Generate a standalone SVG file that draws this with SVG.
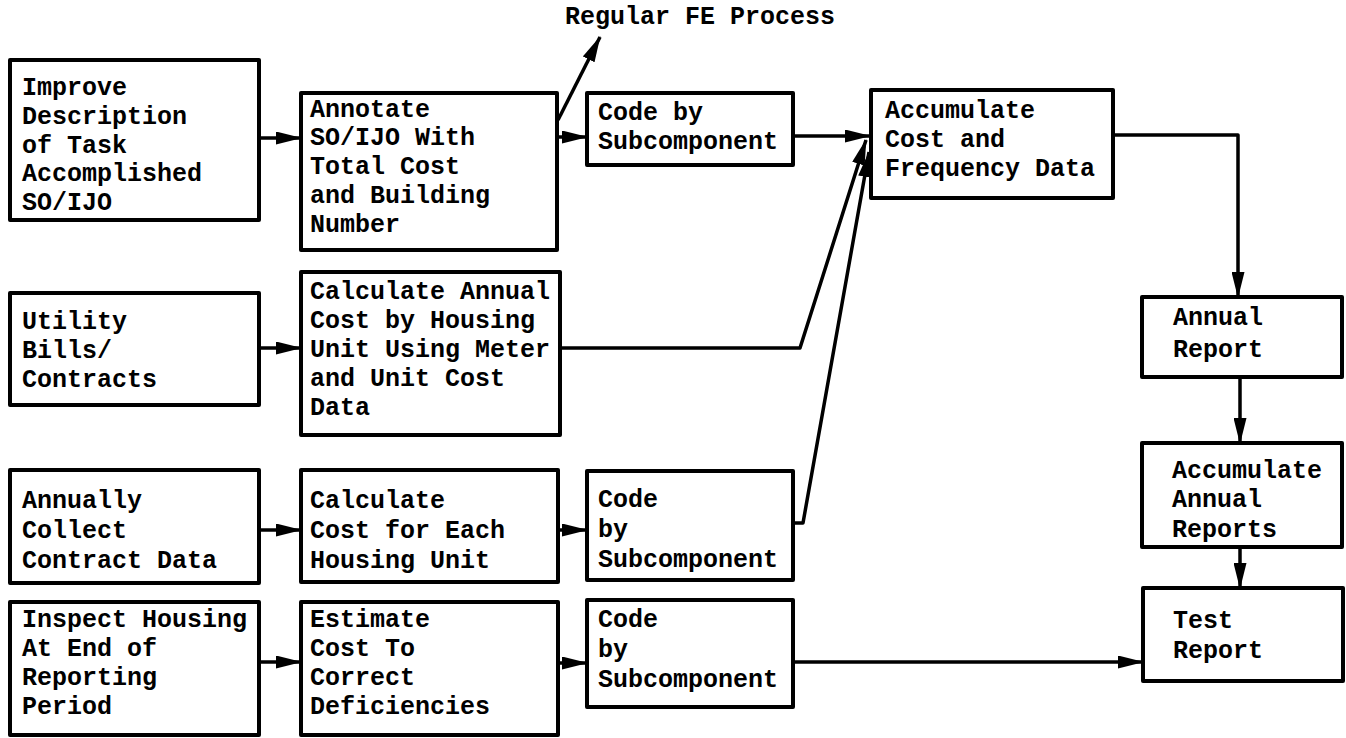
<svg xmlns="http://www.w3.org/2000/svg" width="1346" height="738" viewBox="0 0 1346 738">
<defs>
<style>
.box{fill:#fff;stroke:#000;stroke-width:4;stroke-linejoin:round}
.t{font-family:"Liberation Mono","Courier New",monospace;font-weight:bold;font-size:25px;fill:#000}
.c{fill:none;stroke:#000;stroke-width:3.5;stroke-linejoin:round}
</style>
<marker id="ah" viewBox="0 0 26 13" refX="25" refY="6.5" markerWidth="26" markerHeight="13" markerUnits="userSpaceOnUse" orient="auto">
<path d="M0,0 L26,6.5 L0,13 z" fill="#000"/>
</marker>
</defs>
<rect width="1346" height="738" fill="#fff"/>
<g id="connectors">
<line class="c" x1="259" y1="138" x2="301" y2="138" marker-end="url(#ah)"/>
<line class="c" x1="558" y1="120" x2="600" y2="37" marker-end="url(#ah)"/>
<line class="c" x1="557" y1="137" x2="587" y2="137" marker-end="url(#ah)"/>
<line class="c" x1="793" y1="136" x2="870" y2="136" marker-end="url(#ah)"/>
<polyline class="c" points="560,348 800,348 866,140" marker-end="url(#ah)"/>
<polyline class="c" points="793,523 803,523 869,152" marker-end="url(#ah)"/>
<line class="c" x1="259" y1="348" x2="301" y2="348" marker-end="url(#ah)"/>
<line class="c" x1="259" y1="530" x2="301" y2="530" marker-end="url(#ah)"/>
<line class="c" x1="558" y1="530" x2="587" y2="530" marker-end="url(#ah)"/>
<line class="c" x1="259" y1="662" x2="301" y2="662" marker-end="url(#ah)"/>
<line class="c" x1="558" y1="663" x2="587" y2="663" marker-end="url(#ah)"/>
<line class="c" x1="793" y1="662" x2="1143" y2="662" marker-end="url(#ah)"/>
<polyline class="c" points="1113,135 1238,135 1238,297" marker-end="url(#ah)"/>
<line class="c" x1="1240" y1="377" x2="1240" y2="443" marker-end="url(#ah)"/>
<line class="c" x1="1240" y1="547" x2="1240" y2="588" marker-end="url(#ah)"/>
</g>
<g id="fe-label">
<text class="t" x="565" y="24">Regular FE Process</text>
</g>
<g id="n-improve">
<rect class="box" x="10" y="60" width="249" height="160"/>
<text class="t" x="22" y="95">Improve</text>
<text class="t" x="22" y="124">Description</text>
<text class="t" x="22" y="153">of Task</text>
<text class="t" x="22" y="181">Accomplished</text>
<text class="t" x="22" y="210">SO/IJO</text>
</g>
<g id="n-annotate">
<rect class="box" x="301" y="93" width="256" height="157"/>
<text class="t" x="310" y="117">Annotate</text>
<text class="t" x="310" y="145">SO/IJO With</text>
<text class="t" x="310" y="174">Total Cost</text>
<text class="t" x="310" y="203">and Building</text>
<text class="t" x="310" y="232">Number</text>
</g>
<g id="n-code1">
<rect class="box" x="587" y="93" width="206" height="72"/>
<text class="t" x="598" y="120">Code by</text>
<text class="t" x="598" y="149">Subcomponent</text>
</g>
<g id="n-accumulate">
<rect class="box" x="871" y="90" width="242" height="108"/>
<text class="t" x="885" y="118">Accumulate</text>
<text class="t" x="885" y="147">Cost and</text>
<text class="t" x="885" y="176">Frequency Data</text>
</g>
<g id="n-utility">
<rect class="box" x="10" y="293" width="249" height="112"/>
<text class="t" x="22" y="329">Utility</text>
<text class="t" x="22" y="358">Bills/</text>
<text class="t" x="22" y="387">Contracts</text>
</g>
<g id="n-calc-annual">
<rect class="box" x="301" y="272" width="259" height="163"/>
<text class="t" x="310" y="299">Calculate Annual</text>
<text class="t" x="310" y="328">Cost by Housing</text>
<text class="t" x="310" y="357">Unit Using Meter</text>
<text class="t" x="310" y="386">and Unit Cost</text>
<text class="t" x="310" y="415">Data</text>
</g>
<g id="n-annually">
<rect class="box" x="10" y="470" width="249" height="113"/>
<text class="t" x="22" y="508">Annually</text>
<text class="t" x="22" y="538">Collect</text>
<text class="t" x="22" y="568">Contract Data</text>
</g>
<g id="n-calc-each">
<rect class="box" x="301" y="470" width="257" height="112"/>
<text class="t" x="310" y="508">Calculate</text>
<text class="t" x="310" y="538">Cost for Each</text>
<text class="t" x="310" y="568">Housing Unit</text>
</g>
<g id="n-code2">
<rect class="box" x="587" y="471" width="206" height="109"/>
<text class="t" x="598" y="507">Code</text>
<text class="t" x="598" y="537">by</text>
<text class="t" x="598" y="567">Subcomponent</text>
</g>
<g id="n-inspect">
<rect class="box" x="10" y="602" width="249" height="133"/>
<text class="t" x="22" y="627">Inspect Housing</text>
<text class="t" x="22" y="656">At End of</text>
<text class="t" x="22" y="685">Reporting</text>
<text class="t" x="22" y="714">Period</text>
</g>
<g id="n-estimate">
<rect class="box" x="301" y="602" width="257" height="133"/>
<text class="t" x="310" y="627">Estimate</text>
<text class="t" x="310" y="656">Cost To</text>
<text class="t" x="310" y="685">Correct</text>
<text class="t" x="310" y="714">Deficiencies</text>
</g>
<g id="n-code3">
<rect class="box" x="587" y="600" width="206" height="107"/>
<text class="t" x="598" y="627">Code</text>
<text class="t" x="598" y="657">by</text>
<text class="t" x="598" y="687">Subcomponent</text>
</g>
<g id="n-annual-report">
<rect class="box" x="1142" y="297" width="200" height="80"/>
<text class="t" x="1173" y="325">Annual</text>
<text class="t" x="1173" y="357">Report</text>
</g>
<g id="n-acc-annual">
<rect class="box" x="1142" y="443" width="200" height="104"/>
<text class="t" x="1172" y="478">Accumulate</text>
<text class="t" x="1172" y="507">Annual</text>
<text class="t" x="1172" y="537">Reports</text>
</g>
<g id="n-test">
<rect class="box" x="1143" y="588" width="200" height="93"/>
<text class="t" x="1173" y="628">Test</text>
<text class="t" x="1173" y="658">Report</text>
</g>
</svg>
